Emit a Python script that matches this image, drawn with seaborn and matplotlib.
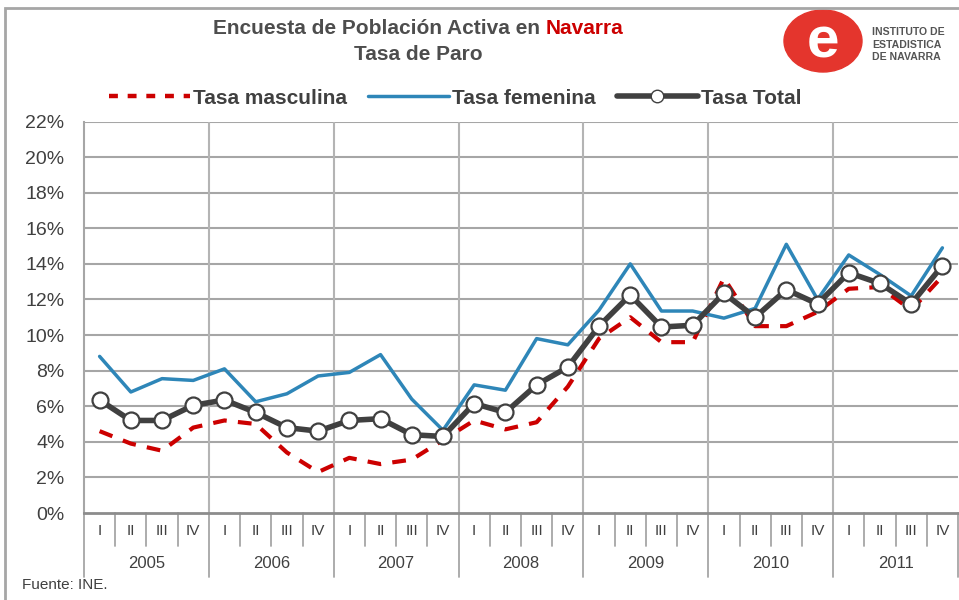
import numpy as np
import pandas as pd
import matplotlib.pyplot as plt
import seaborn as sns
from matplotlib.patches import Ellipse, Rectangle
from matplotlib.lines import Line2D

# ---- data ----
years = ["2005", "2006", "2007", "2008", "2009", "2010", "2011"]
quarters = ["I", "II", "III", "IV"]

tasa_masculina = [4.6, 3.9, 3.5, 4.8, 5.2, 5.0, 3.4, 2.3,
                  3.1, 2.75, 3.0, 4.1, 5.2, 4.7, 5.1, 7.1,
                  9.8, 11.0, 9.6, 9.6, 13.2, 10.5, 10.5, 11.3,
                  12.6, 12.7, 11.4, 13.3]
tasa_femenina = [8.8, 6.8, 7.55, 7.45, 8.1, 6.25, 6.7, 7.7,
                 7.9, 8.9, 6.4, 4.65, 7.2, 6.9, 9.8, 9.45,
                 11.4, 14.0, 11.35, 11.35, 10.95, 11.5, 15.1, 12.0,
                 14.5, 13.4, 12.2, 14.9]
tasa_total = [6.35, 5.2, 5.2, 6.05, 6.35, 5.65, 4.8, 4.6,
              5.2, 5.3, 4.4, 4.3, 6.15, 5.65, 7.2, 8.2,
              10.5, 12.25, 10.45, 10.55, 12.35, 11.0, 12.55, 11.75,
              13.5, 12.9, 11.75, 13.9]

n = len(tasa_total)
df = pd.DataFrame({
    "idx": np.arange(n),
    "masc": tasa_masculina,
    "fem": tasa_femenina,
    "total": tasa_total,
})

sns.set_style("white")
plt.rcParams["font.family"] = ["Liberation Sans", "DejaVu Sans"]

W, H = 959, 600
fig = plt.figure(figsize=(W / 100, H / 100), dpi=100)

# outer frame
fig.patches.append(Rectangle((5 / W, -0.05), 1.1, 1 - 8 / H + 0.05,
                             transform=fig.transFigure, fill=False,
                             edgecolor="#a6a6a6", linewidth=2))

ax_l, ax_r, ax_b, ax_t = 84 / W, 958 / W, (H - 513) / H, (H - 121.5) / H
ax = fig.add_axes([ax_l, ax_b, ax_r - ax_l, ax_t - ax_b])

red = "#cc0000"
blue = "#2e86b8"
dark = "#404040"

sns.lineplot(data=df, x="idx", y="masc", ax=ax, color=red, linewidth=3,
             zorder=3)
ax.lines[-1].set_dashes((3.3, 2.7))
sns.lineplot(data=df, x="idx", y="fem", ax=ax, color=blue, linewidth=2.5,
             zorder=4)
sns.lineplot(data=df, x="idx", y="total", ax=ax, color=dark, linewidth=4,
             marker="o", markersize=11.5, markerfacecolor="white",
             markeredgecolor=dark, markeredgewidth=1.6, zorder=5)

ax.set_xlim(-0.5, n - 0.5)
ax.set_ylim(0, 22)
ax.set_yticks(np.arange(0, 23, 2))
ax.set_yticklabels([f"{v}%" for v in range(0, 23, 2)], fontsize=14, color=dark)
ax.tick_params(axis="y", length=0, pad=14)

# grid
for v in range(2, 23, 2):
    ax.axhline(v, color="#a6a6a6", linewidth=1.5, zorder=1)
for k in range(1, len(years)):
    ax.axvline(4 * k - 0.5, color="#b4b4b4", linewidth=1.5, zorder=1)

for s in ["top", "right"]:
    ax.spines[s].set_visible(False)
ax.spines["left"].set_color("#a6a6a6")
ax.spines["left"].set_linewidth(1.5)
ax.spines["bottom"].set_color("#8c8c8c")
ax.spines["bottom"].set_linewidth(2)

# category axis: quarters and years
ax.set_xticks([])
ax.set_xlabel("")
ax.set_ylabel("")
tr = ax.get_xaxis_transform()
ph = ax_t - ax_b
px = 1 / (ph * H)  # one pixel in axes fraction
for i in range(n):
    ax.text(i, -18 * px, quarters[i % 4], transform=tr, ha="center",
            va="center", fontsize=11, color=dark)
for i in range(n + 1):
    ln = 64 if i % 4 == 0 else 33
    ax.add_line(Line2D([i - 0.5, i - 0.5], [0, -ln * px], transform=tr,
                       color="#a6a6a6", linewidth=1.3, clip_on=False))
for k, y in enumerate(years):
    ax.text(4 * k + 1.5, -50 * px, y, transform=tr, ha="center",
            va="center", fontsize=12, color=dark)

# title (two colours on one line, centred as a whole)
rend = fig.canvas.get_renderer()
ta = fig.text(0, 1 - 28 / H, "Encuesta de Población Activa en ", ha="left",
              va="center", fontsize=15, fontweight="bold", color="#4d4d4d")
tb = fig.text(0, 1 - 28 / H, "Navarra", ha="left", va="center",
              fontsize=15, fontweight="bold", color=red)
wa = ta.get_window_extent(rend).width
wb = tb.get_window_extent(rend).width
x0 = 418 - (wa + wb) / 2
ta.set_x(x0 / W)
tb.set_x((x0 + wa) / W)
fig.text(418 / W, 1 - 55 / H, "Tasa de Paro", ha="center", va="center",
         fontsize=15, fontweight="bold", color="#4d4d4d")

# legend
handles = [
    Line2D([], [], color=red, linewidth=3.2, dashes=(2, 2.2)),
    Line2D([], [], color=blue, linewidth=2.5),
    Line2D([], [], color=dark, linewidth=4, marker="o", markersize=9,
           markerfacecolor="white", markeredgecolor=dark),
]
leg = fig.legend(handles, ["Tasa masculina", "Tasa femenina", "Tasa Total"],
                 loc="center", bbox_to_anchor=(455 / W, 1 - 98 / H), ncol=3,
                 frameon=False, handlelength=3.9, handletextpad=0.15,
                 columnspacing=1.0, prop={"weight": "bold", "size": 15})
for t in leg.get_texts():
    t.set_color(dark)

# logo
lg = fig.add_axes([782 / W, 1 - 75 / H, 82 / W, 68 / H])
lg.set_xlim(0, 82)
lg.set_ylim(0, 68)
lg.axis("off")
lg.add_patch(Ellipse((41, 34), 78, 62, color="#e4352d"))
lg.text(41, 32, "e", ha="center", va="center", fontsize=42,
        fontweight="bold", color="white")
for j, line in enumerate(["INSTITUTO DE", "ESTADISTICA", "DE NAVARRA"]):
    fig.text(872 / W, 1 - (32 + 12.5 * j) / H, line, ha="left", va="center",
             fontsize=7.6, fontweight="bold", color="#555555")

fig.text(22 / W, 1 - 585 / H, "Fuente: INE.", ha="left", va="center",
         fontsize=11, color=dark)

fig.savefig("out.png", dpi=100)
